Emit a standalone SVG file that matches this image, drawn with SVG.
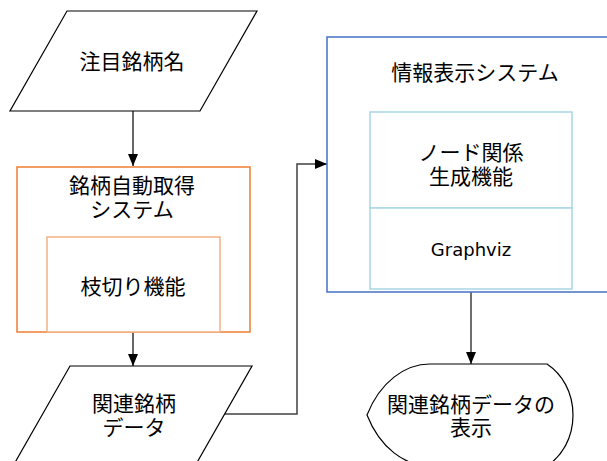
<svg xmlns="http://www.w3.org/2000/svg" width="607" height="461" viewBox="0 0 607 461">
<style>
.jp{font-family:"Noto Sans CJK JP","Liberation Sans",sans-serif;font-size:21px;fill:#000;text-anchor:middle;dominant-baseline:central}
.lat{font-family:"DejaVu Sans","Liberation Sans",sans-serif;font-size:18px;fill:#000;text-anchor:middle;dominant-baseline:central}
.shape{fill:#fff;stroke:#000;stroke-width:1.2}
.conn{fill:none;stroke:#000;stroke-width:1.2}
.conn2{fill:none;stroke:#404040;stroke-width:1.5}
</style>
<defs>
<marker id="ah" viewBox="0 0 12 10" refX="12" refY="5" markerWidth="12" markerHeight="10" markerUnits="userSpaceOnUse" orient="auto">
<path d="M0,0 L12,5 L0,10 Z" fill="#000"/>
</marker>
</defs>
<rect width="607" height="461" fill="#fff"/>
<g id="connectors">
<path class="conn" d="M133,111 L133,166" marker-end="url(#ah)"/>
<path class="conn" d="M133,332 L133,366" marker-end="url(#ah)"/>
<path class="conn2" d="M225,414 L297,414 L297,164 L327,164" marker-end="url(#ah)"/>
<path class="conn2" d="M471,292 L471,364" marker-end="url(#ah)"/>
</g>
<g id="n_input">
<polygon class="shape" points="67,11 257,11 200,111 10,111"/>
<text class="jp" x="132" y="60">注目銘柄名</text>
</g>
<g id="n_system1">
<rect x="17" y="167" width="233" height="165" fill="#fff" stroke="#ed7d31" stroke-width="1.5"/>
<text class="jp"><tspan x="132" y="184">銘柄自動取得</tspan><tspan x="132" y="208">システム</tspan></text>
</g>
<g id="n_prune">
<rect x="47" y="237" width="173" height="95" fill="#fff" stroke="#f4b183" stroke-width="1.5"/>
<text class="jp" x="133" y="285">枝切り機能</text>
</g>
<g id="n_data">
<polygon class="shape" points="70,366 252,366 195,466 13,466"/>
<text class="jp"><tspan x="134" y="402">関連銘柄</tspan><tspan x="134" y="426">データ</tspan></text>
</g>
<g id="n_system2">
<rect x="327" y="37" width="300" height="255" fill="#fff" stroke="#4472c4" stroke-width="1.5"/>
<text class="jp" x="475" y="71">情報表示システム</text>
</g>
<g id="n_node">
<rect x="370" y="112" width="202" height="96" fill="#fff" stroke="#a9d6e5" stroke-width="1.5"/>
<text class="jp"><tspan x="471" y="151">ノード関係</tspan><tspan x="471" y="175">生成機能</tspan></text>
</g>
<g id="n_graphviz">
<rect x="370" y="208" width="202" height="81" fill="#fff" stroke="#a9d6e5" stroke-width="1.5"/>
<text class="lat" x="471" y="249">Graphviz</text>
</g>
<g id="n_display">
<path class="shape" d="M367,415 C380,382 405,364 430,364 L547,364 C562,374 573,392 573,415 C573,438 562,456 547,466 L430,466 C405,466 380,448 367,415 Z"/>
<text class="jp"><tspan x="471" y="403">関連銘柄データの</tspan><tspan x="471" y="426">表示</tspan></text>
</g>
</svg>
